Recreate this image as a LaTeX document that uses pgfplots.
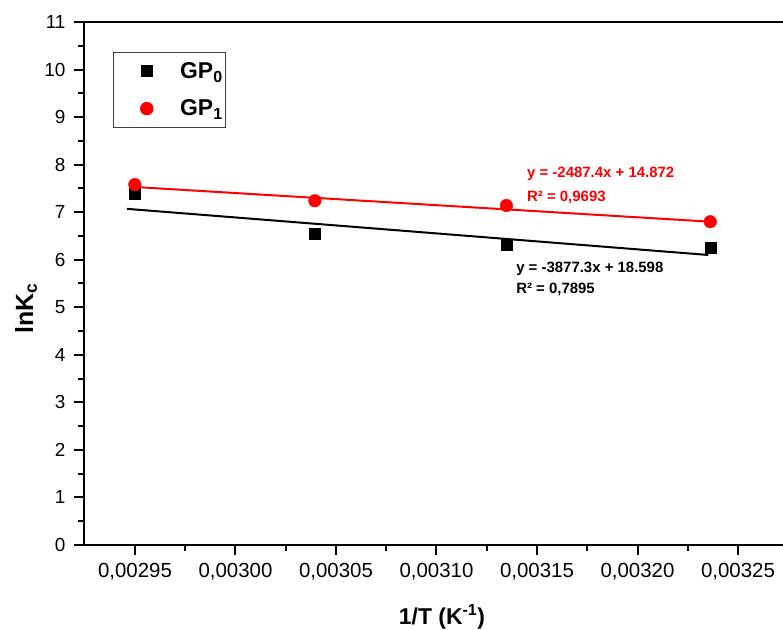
\documentclass[border=0pt]{standalone}
\usepackage{fontspec}
\setmainfont{Liberation Sans}
\usepackage{pgfplots}
\pgfplotsset{compat=1.18}
\begin{document}
\begin{tikzpicture}
\begin{axis}[
  scale only axis,
  width=754.5bp, height=523bp,
  xmin=0.00292463, xmax=0.0033,
  ymin=0, ymax=11,
  axis line style={line width=2.5bp},
  scaled x ticks=false,
  xtick={0.00295,0.00300,0.00305,0.00310,0.00315,0.00320,0.00325},
  xticklabels={{0,00295},{0,00300},{0,00305},{0,00310},{0,00315},{0,00320},{0,00325}},
  ytick={0,1,...,11},
  minor x tick num=1, minor y tick num=1,
  tick align=outside,
  xtick pos=bottom, ytick pos=left,
  major tick length=10bp, minor tick length=6bp,
  tick style={black, line width=2bp},
  /pgf/number format/assume math mode=true,
  xticklabel style={font=\fontsize{20.5}{24}\selectfont, yshift=-5bp},
  yticklabel style={font=\fontsize{19}{22}\selectfont, xshift=-5bp},
  xlabel={\textbf{1/T (K\textsuperscript{-1})}},
  ylabel={\textbf{lnK\textsubscript{c}}},
  xlabel style={at={(axis description cs:0.4745,0)}, anchor=center, yshift=-72bp, font=\fontsize{23}{27}\selectfont},
  ylabel style={at={(axis description cs:-0.0769,0.453)}, anchor=center, font=\fontsize{25}{30}\selectfont},
  legend style={at={(axis description cs:0.0384,0.9426)}, anchor=north west,
    draw=black!75, line width=0.8bp, font=\bfseries\fontsize{23}{27}\selectfont,
    row sep=16bp, inner xsep=1bp, inner ysep=8bp},
  legend image code/.code={\path (0bp,0bp) (63bp,0bp); \draw[#1] plot coordinates {(32bp,0bp)};},
  legend cell align=left,
  clip=false,
]
\addplot[only marks, mark=square*, mark size=5.5bp, black] coordinates {
  (0.0029499,7.39) (0.0030395,6.55) (0.0031348,6.32) (0.0032362,6.26)
};
\addlegendentry{GP\textsubscript{0}}
\addplot[only marks, mark=*, mark size=6.3bp, red] coordinates {
  (0.0029499,7.58) (0.0030395,7.24) (0.0031348,7.14) (0.0032362,6.80)
};
\addlegendentry{GP\textsubscript{1}}
\addplot[forget plot, black, line width=2bp, no marks] coordinates {
  (0.002946,7.07) (0.0032352,6.10)
};
\addplot[forget plot, red, line width=2bp, no marks] coordinates {
  (0.0029499,7.53) (0.0032362,6.80)
};
\node[anchor=west, red, font=\bfseries\fontsize{15}{18}\selectfont, inner sep=0pt] at (axis cs:0.003145,7.81) {y = -2487.4x + 14.872};
\node[anchor=west, red, font=\bfseries\fontsize{15}{18}\selectfont, inner sep=0pt] at (axis cs:0.003145,7.32) {R² = 0,9693};
\node[anchor=west, black, font=\bfseries\fontsize{15}{18}\selectfont, inner sep=0pt] at (axis cs:0.0031396,5.80) {y = -3877.3x + 18.598};
\node[anchor=west, black, font=\bfseries\fontsize{15}{18}\selectfont, inner sep=0pt] at (axis cs:0.0031396,5.38) {R² = 0,7895};
\end{axis}
\pgfresetboundingbox
\path[use as bounding box] (-84bp,-85bp) rectangle (699bp,545bp);
\end{tikzpicture}
\end{document}
